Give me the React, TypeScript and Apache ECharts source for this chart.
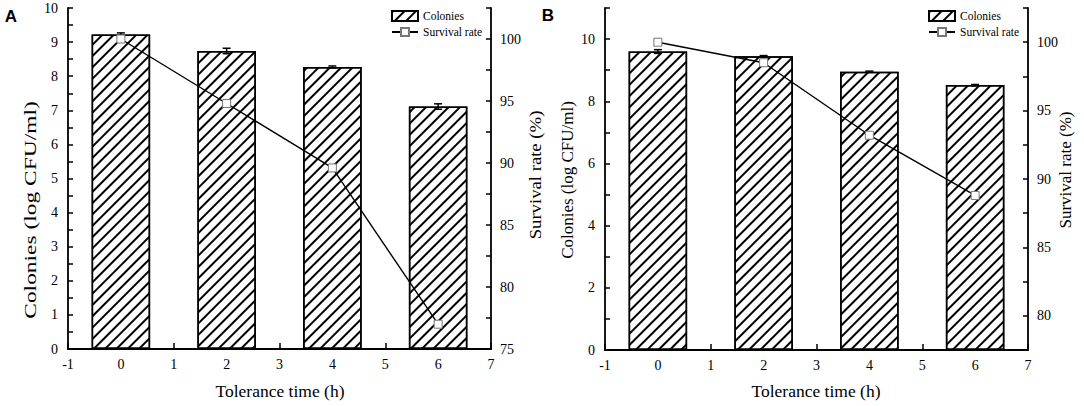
import React, { useEffect, useRef } from "react";
import * as echarts from "echarts";

const timeValues = [0, 2, 4, 6];
const xTickLabels = ["-1", "0", "1", "2", "3", "4", "5", "6", "7"];

const colonyA = [9.22, 8.74, 8.27, 7.11];
const colonyErrA = [0.05, 0.08, 0.03, 0.08];
const survivalA = [100, 94.8, 89.6, 77.0];

const colonyB = [9.6, 9.45, 8.95, 8.52];
const colonyErrB = [0.06, 0.02, 0.02, 0.02];
const survivalB = [100, 98.5, 93.2, 88.8];

const SERIF = "Liberation Serif";

const decal = {
  symbol: "rect",
  symbolSize: 1,
  color: "#000",
  backgroundColor: "rgba(0,0,0,0)",
  dashArrayX: [1, 0],
  dashArrayY: [1.15, 6],
  rotation: -Math.PI / 4,
};

function errorRender(params: any, api: any) {
  const x = api.value(0);
  const y = api.value(1);
  const e = api.value(2);
  const hi = api.coord([x, y + e]);
  const lo = api.coord([x, y - e]);
  const w = 4;
  const st = { stroke: "#000", lineWidth: 1.5 };
  return {
    type: "group",
    children: [
      { type: "line", shape: { x1: hi[0], y1: hi[1], x2: lo[0], y2: lo[1] }, style: st },
      { type: "line", shape: { x1: hi[0] - w, y1: hi[1], x2: hi[0] + w, y2: hi[1] }, style: st },
      { type: "line", shape: { x1: lo[0] - w, y1: lo[1], x2: lo[0] + w, y2: lo[1] }, style: st },
    ],
  };
}

const axisLineStyle = { show: true, onZero: false, lineStyle: { color: "#000", width: 1.8 } };
const tickStyle = { show: true, inside: true, length: 5, lineStyle: { color: "#000", width: 1.5 } };
const labelBase = { color: "#000", fontFamily: SERIF, fontSize: 14 };

function xAxis(gridIndex: number) {
  return {
    type: "value",
    gridIndex,
    min: -1,
    max: 7,
    interval: 1,
    axisLine: axisLineStyle,
    axisTick: { ...tickStyle, length: 6 },
    splitLine: { show: false },
    axisLabel: {
      ...labelBase,
      margin: 8,
      formatter: (v: number) => {
        const s = String(Math.round(v));
        return xTickLabels.indexOf(s) >= 0 ? s : "";
      },
    },
  };
}

function yAxis(
  gridIndex: number,
  position: string,
  min: number,
  max: number,
  interval: number,
  fmt: (v: number) => string
) {
  return {
    type: "value",
    gridIndex,
    position,
    min,
    max,
    interval,
    axisLine: axisLineStyle,
    axisTick: tickStyle,
    splitLine: { show: false },
    axisLabel: { ...labelBase, margin: position === "left" ? 10 : 9, formatter: fmt },
  };
}

const intFmt = (v: number) => (Math.abs(v - Math.round(v)) < 1e-6 ? String(Math.round(v)) : "");
const fiveFmt = (v: number) => (Math.abs(v % 5) < 1e-6 ? String(v) : "");
const evenFmt = (v: number) => (Math.round(v) % 2 === 0 && v <= 10 ? String(Math.round(v)) : "");

function bars(name: string, data: number[], xi: number, yi: number) {
  return {
    name,
    type: "bar",
    xAxisIndex: xi,
    yAxisIndex: yi,
    barWidth: 58.5,
    data: timeValues.map((t, i) => [t, data[i]]),
    itemStyle: { color: "#fff", borderColor: "#000", borderWidth: 1.5, decal },
    z: 2,
  };
}

function errors(data: number[], err: number[], xi: number, yi: number) {
  return {
    type: "custom",
    xAxisIndex: xi,
    yAxisIndex: yi,
    renderItem: errorRender,
    data: timeValues.map((t, i) => [t, data[i], err[i]]),
    z: 3,
    silent: true,
  };
}

function line(name: string, data: number[], xi: number, yi: number) {
  return {
    name,
    type: "line",
    xAxisIndex: xi,
    yAxisIndex: yi,
    data: timeValues.map((t, i) => [t, data[i]]),
    symbol: "rect",
    symbolSize: 8,
    lineStyle: { color: "#000", width: 1.4 },
    itemStyle: { color: "#fff", borderColor: "#777", borderWidth: 1 },
    z: 4,
  };
}

function legend(left: number) {
  return {
    left,
    top: 10,
    orient: "vertical",
    itemWidth: 26,
    itemHeight: 10,
    itemGap: 4,
    padding: 0,
    selectedMode: false,
    textStyle: { color: "#000", fontFamily: SERIF, fontSize: 11.5 },
    data: [{ name: "Colonies", icon: "rect" }, { name: "Survival rate" }],
  };
}

function vtext(text: string, x: number, y: number, scaleX: number) {
  return {
    type: "text",
    x,
    y,
    rotation: Math.PI / 2,
    scaleX,
    style: {
      text,
      fill: "#000",
      font: `17px "Liberation Serif"`,
      textAlign: "center",
      textVerticalAlign: "middle",
      align: "center",
      verticalAlign: "middle",
    },
  };
}

function htext(text: string, x: number, y: number, font: string) {
  return {
    type: "text",
    x,
    y,
    style: {
      text,
      fill: "#000",
      font,
      textAlign: "center",
      textVerticalAlign: "middle",
      align: "center",
      verticalAlign: "middle",
    },
  };
}

export default function App() {
  const ref = useRef<HTMLDivElement>(null);
  useEffect(() => {
    if (!ref.current) return;
    const chart = echarts.init(ref.current, null, { renderer: "svg" });
    const option: any = {
      animation: false,
      backgroundColor: "#fff",
      grid: [
        { left: 68, top: 8, width: 423, height: 341 },
        { left: 605, top: 8, width: 423, height: 342 },
      ],
      xAxis: [xAxis(0), xAxis(1)],
      yAxis: [
        yAxis(0, "left", 0, 10, 0.5, intFmt),
        yAxis(0, "right", 75, 102.5, 2.5, fiveFmt),
        yAxis(1, "left", 0, 11, 1, evenFmt),
        yAxis(1, "right", 77.5, 102.5, 2.5, fiveFmt),
      ],
      legend: [legend(391), legend(928)],
      series: [
        bars("Colonies", colonyA, 0, 0),
        errors(colonyA, colonyErrA, 0, 0),
        line("Survival rate", survivalA, 0, 1),
        bars("Colonies", colonyB, 1, 2),
        errors(colonyB, colonyErrB, 1, 2),
        line("Survival rate", survivalB, 1, 3),
      ],
      graphic: [
        htext("A", 11, 16, `bold 17px "Liberation Sans"`),
        htext("B", 548, 15, `bold 17px "Liberation Sans"`),
        vtext("Colonies (log CFU/ml)", 30, 210, 1.38),
        vtext("Survival rate (%)", 535, 175, 1.1),
        vtext("Colonies (log CFU/ml)", 567, 180, 1),
        vtext("Survival rate (%)", 1065, 170, 1),
        htext("Tolerance time (h)", 280, 391, `17.5px "Liberation Serif"`),
        htext("Tolerance time (h)", 816, 391, `17.5px "Liberation Serif"`),
      ],
    };
    chart.setOption(option);
    return () => chart.dispose();
  }, []);
  return (
    <div
      ref={ref}
      style={{ position: "absolute", left: 0, top: 0, width: 1084, height: 406 }}
    />
  );
}
